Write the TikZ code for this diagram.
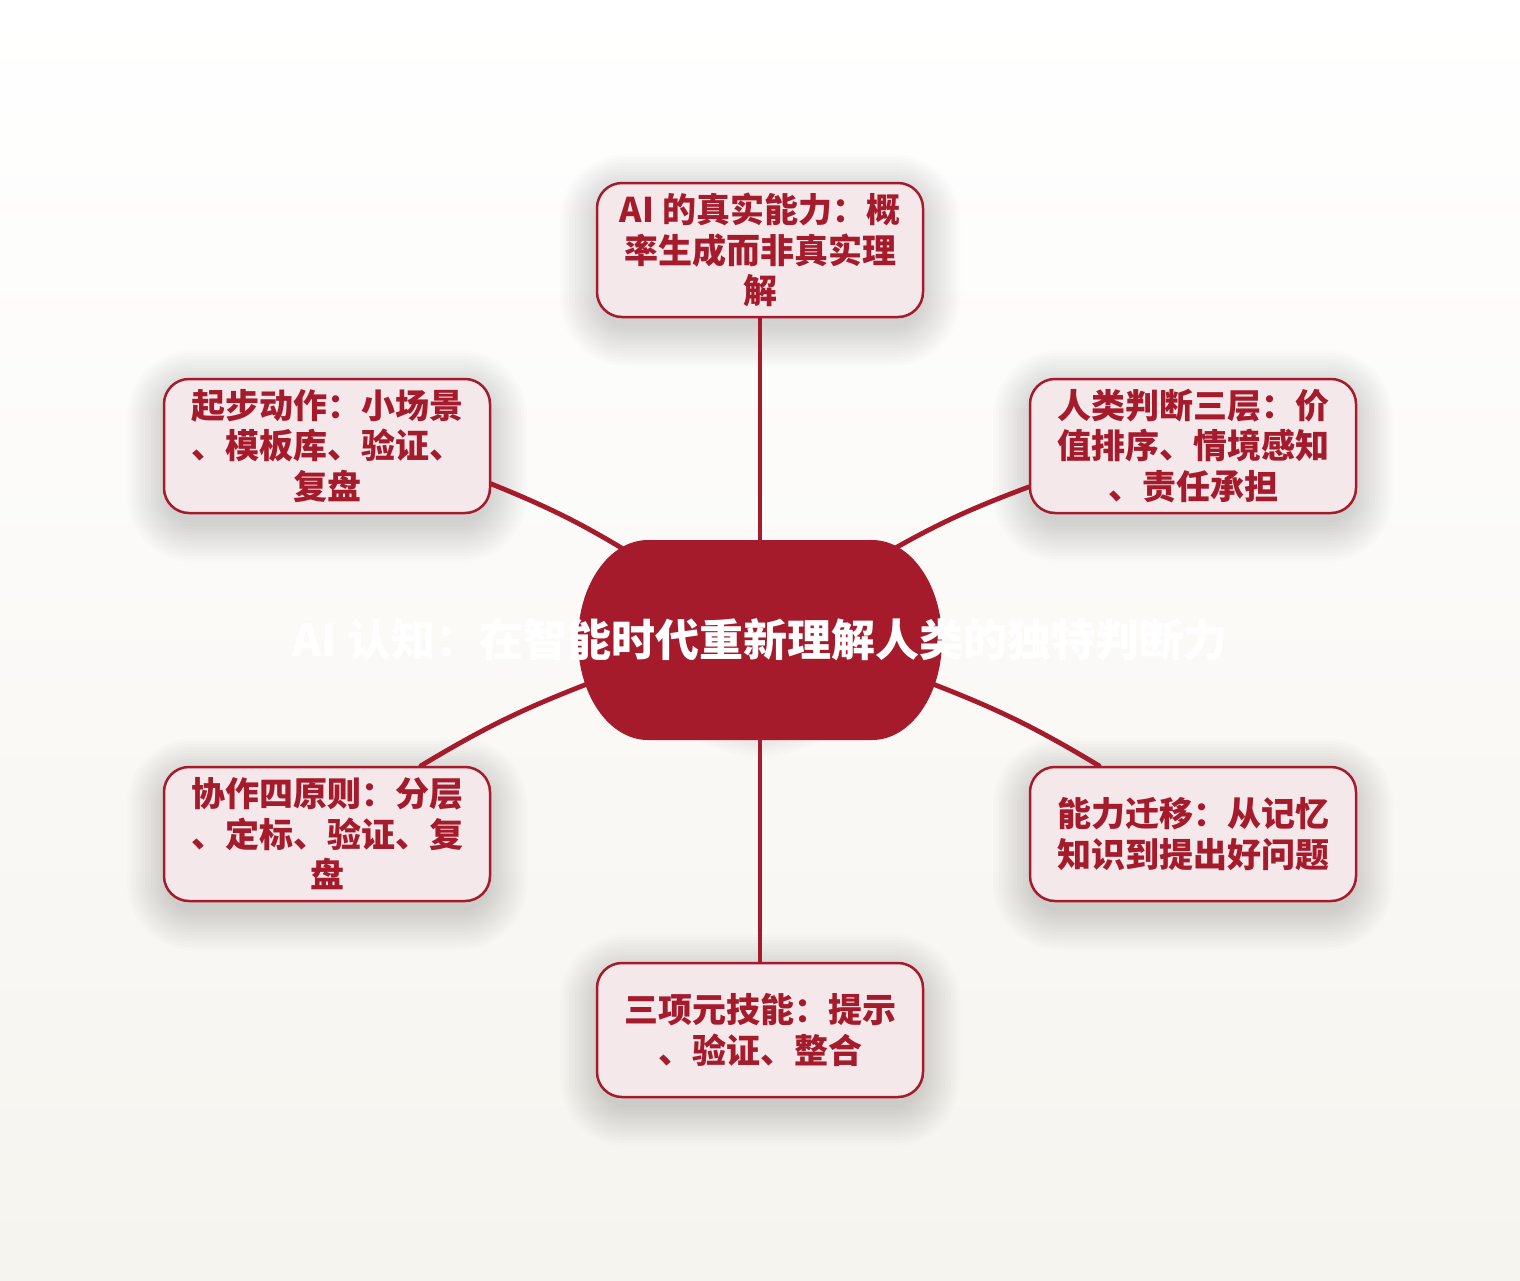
\documentclass[tikz,border=0pt]{standalone}
\usepackage{fontspec}
\setmainfont{Noto Sans CJK SC}
\usetikzlibrary{shapes.geometric,calc}
\definecolor{deepred}{HTML}{A51B2C}
\definecolor{petal}{HTML}{F4E8EB}
\definecolor{paper}{HTML}{F6F4EF}
\pgfdeclarelayer{backdrop}
\pgfdeclarelayer{links}
\pgfsetlayers{backdrop,links,main}
% soft shadow under a named box
\newcommand\softshade[2][25]{%
  \foreach \s in {1,...,14}
    \fill[black, opacity=0.011, rounded corners=#1*0.5pt+\s*1.5pt]
      ($(#2.south west)+(-3*\s+6,-3*\s-6)$) rectangle ($(#2.north east)+(3*\s-6,3*\s-14)$);}

\begin{document}
\begin{tikzpicture}[x=0.5pt,y=0.5pt,
  idea/.style={draw=deepred, line width=1.25pt, fill=petal, rounded corners=12.5pt,
    minimum width=163pt, minimum height=67pt, inner sep=0pt, align=center,
    text=deepred, font=\bfseries\fontsize{17}{20.25}\selectfont},
  hub/.style={ellipse, minimum width=182pt, minimum height=100pt, inner sep=0pt},
  title/.style={text=white, inner sep=0pt, font=\bfseries\fontsize{22}{26}\selectfont},
  link/.style={draw=deepred, line width=2.4pt, line cap=round}]
  % Page
  \begin{pgfonlayer}{backdrop}
    \shade[top color=white, bottom color=paper] (0,0) rectangle (1520,-1280);
  \end{pgfonlayer}
  \useasboundingbox (0,0) rectangle (1520,-1280);
  % Centre and ideas
  \node[hub] (hub) at (760,-640) {};
  \node[idea] (truth) at (760,-250) {AI 的真实能力：概\\率生成而非真实理\\解};
  \node[idea] (judge) at (1193,-446) {人类判断三层：价\\值排序、情境感知\\、责任承担};
  \node[idea] (shift) at (1193,-834) {能力迁移：从记忆\\知识到提出好问题};
  \node[idea] (meta) at (760,-1030) {三项元技能：提示\\、验证、整合};
  \node[idea] (rules) at (327,-834) {协作四原则：分层\\、定标、验证、复\\盘};
  \node[idea] (start) at (327,-446) {起步动作：小场景\\、模板库、验证、\\复盘};
  % Shadows
  \begin{pgfonlayer}{backdrop}
    \foreach \b in {truth,judge,shift,meta,rules,start} {\softshade{\b}}
    \softshade[140]{hub}
  \end{pgfonlayer}
  % Links, then the hub body over them
  \begin{pgfonlayer}{links}
    \draw[link] (hub.north) -- (truth.south);
    \draw[link] (hub.35) to[bend left=5] (judge.194);
    \draw[link] (hub.-14) to[bend left=5] (shift.144);
    \draw[link] (hub.south) -- (meta.north);
    \draw[link] (hub.194) to[bend right=5] (rules.36);
    \draw[link] (hub.146) to[bend right=5] (start.-13.5);
    \fill[deepred]
      (648,-540) -- (872,-540) arc[start angle=90, end angle=-90, x radius=70, y radius=100]
      -- (648,-740) arc[start angle=270, end angle=90, x radius=70, y radius=100] -- cycle;
  \end{pgfonlayer}
  \node[title] (headline) at (hub.center) {AI 认知：在智能时代重新理解人类的独特判断力};
\end{tikzpicture}
\end{document}
